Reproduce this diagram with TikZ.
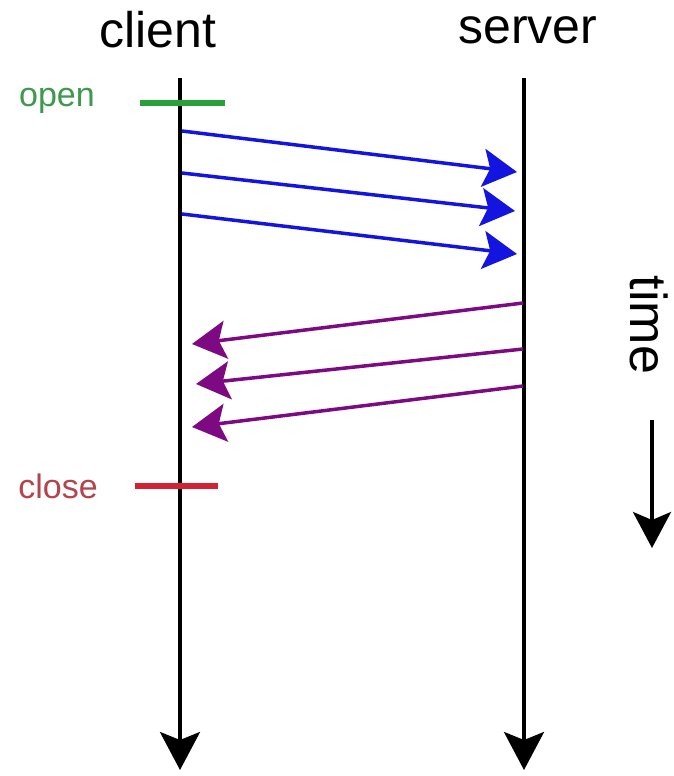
\documentclass[tikz,border=0pt]{standalone}
\usepackage{fontspec}
\setmainfont{Liberation Sans}
\usetikzlibrary{arrows.meta}
\definecolor{msgblue}{RGB}{20,20,225}
\definecolor{msgpurple}{RGB}{125,10,130}
\definecolor{opengreen}{RGB}{40,160,60}
\definecolor{closered}{RGB}{210,35,50}
\begin{document}
\begin{tikzpicture}[x=1pt,y=-1pt,
  lifeline/.style={line width=3.5pt,-{Stealth[length=38pt,width=40pt,inset=8pt]}},
  request/.style={msgblue,line width=3.5pt,-{Stealth[length=34pt,width=38pt,inset=7pt]}},
  reply/.style={msgpurple,line width=3.5pt,-{Stealth[length=34pt,width=38pt,inset=7pt]}},
  title/.style={font=\fontsize{50}{50}\selectfont,inner sep=0pt},
  smalllbl/.style={font=\fontsize{34}{34}\selectfont,inner sep=0pt},
  tickline/.style={line width=6pt}
]
\fill[white] (0,0) rectangle (674,776);
\useasboundingbox (0,0) rectangle (674,776);

\node[title] (client) at (158,30) {client};
\node[title] (server) at (528,30) {server};

\coordinate (ctop) at (180,78);
\coordinate (cbot) at (180,770);
\coordinate (stop) at (524,78);
\coordinate (sbot) at (524,770);
\draw[lifeline] (ctop) -- (cbot);
\draw[lifeline] (stop) -- (sbot);

% open / close
\node[smalllbl,text=opengreen!75!gray] (open) at (57,101) {open};
\coordinate (o1) at (140,103);
\coordinate (o2) at (225,103);
\draw[tickline,opengreen] (o1) -- (o2);
\node[smalllbl,text=closered!65!gray] (close) at (58,486) {close};
\coordinate (c1) at (135,486);
\coordinate (c2) at (218,486);
\draw[tickline,closered] (c1) -- (c2);

% requests
\coordinate (r1s) at (182,131); \coordinate (r1e) at (517,172);
\coordinate (r2s) at (182,173); \coordinate (r2e) at (515,211);
\coordinate (r3s) at (182,214); \coordinate (r3e) at (517,254);
\draw[request] (r1s) -- (r1e);
\draw[request] (r2s) -- (r2e);
\draw[request] (r3s) -- (r3e);

% replies
\coordinate (p1s) at (523,303); \coordinate (p1e) at (192,344);
\coordinate (p2s) at (523,349); \coordinate (p2e) at (196,384);
\coordinate (p3s) at (523,386); \coordinate (p3e) at (192,427);
\draw[reply] (p1s) -- (p1e);
\draw[reply] (p2s) -- (p2e);
\draw[reply] (p3s) -- (p3e);

% time
\node[title,font=\fontsize{52}{52}\selectfont,rotate=-90] (time) at (649,325) {time};
\coordinate (t1) at (652,420);
\coordinate (t2) at (652,548);
\draw[line width=3.5pt,-{Stealth[length=36pt,width=38pt,inset=8pt]}] (t1) -- (t2);
\end{tikzpicture}
\end{document}
